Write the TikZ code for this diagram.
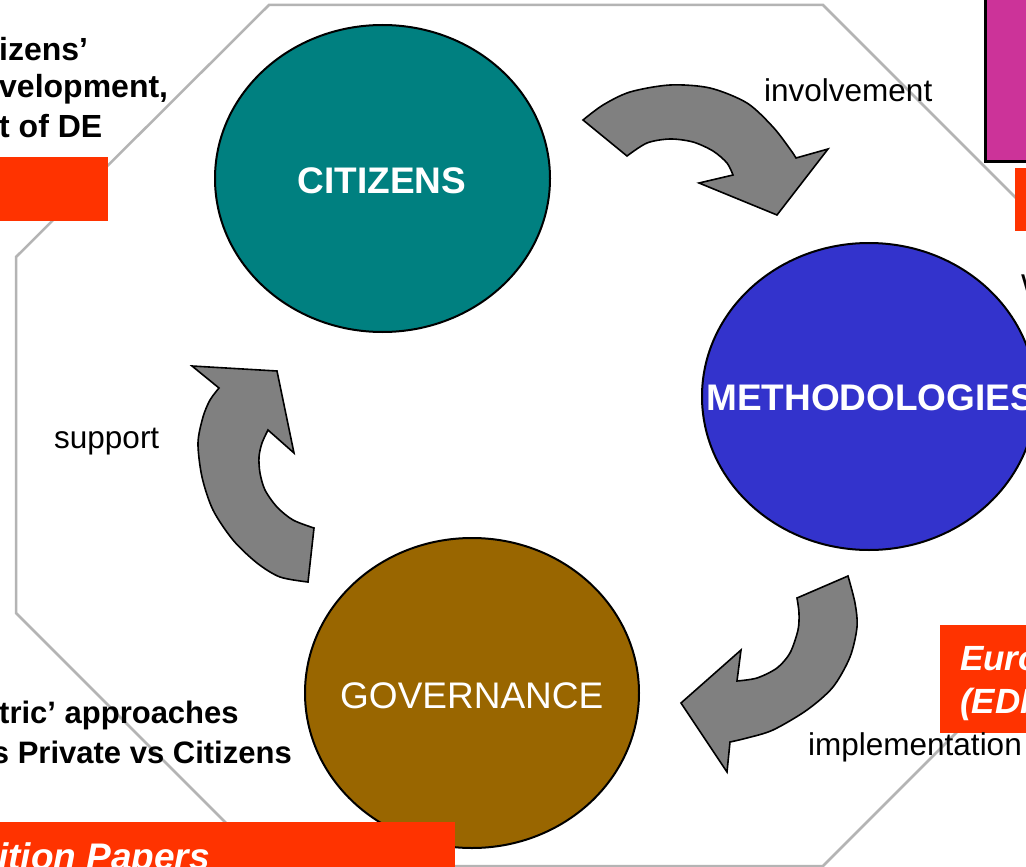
\documentclass[tikz,border=0pt]{standalone}
\usepackage{fontspec}
\setmainfont{Liberation Sans}
\usetikzlibrary{shapes.geometric}
\definecolor{octgray}{HTML}{B4B4B4}
\definecolor{tealc}{HTML}{008080}
\definecolor{bluec}{HTML}{3333CC}
\definecolor{brownc}{HTML}{996600}
\definecolor{magc}{HTML}{CC3399}
\definecolor{redc}{HTML}{FF3300}
\definecolor{arrowgray}{HTML}{808080}
\tikzset{
  oct/.style={draw=octgray, line width=2.5pt, line join=miter},
  blob/.style={ellipse, draw=black, line width=2pt, inner sep=0pt},
  bent/.style={fill=arrowgray, draw=black, line width=1.6pt, line join=miter},
  redbox/.style={fill=redc},
  bigbold/.style={inner sep=0pt, text=white, font=\fontsize{37}{44}\selectfont\bfseries},
  bigreg/.style={inner sep=0pt, text=white, font=\fontsize{37}{44}\selectfont},
  lbl/.style={inner sep=0pt, text=black, font=\fontsize{31.5}{38}\selectfont},
  side/.style={inner sep=0pt, text=black, font=\fontsize{32}{38}\selectfont\bfseries},
  sidesm/.style={inner sep=0pt, text=black, font=\fontsize{31}{38}\selectfont\bfseries},
  boxtxt/.style={inner sep=0pt, text=white, font=\fontsize{35}{42}\selectfont\bfseries\itshape},
  boxtxtbig/.style={inner sep=0pt, text=white, font=\fontsize{37}{44}\selectfont\bfseries\itshape}
}
\begin{document}
\begin{tikzpicture}[x=1pt,y=-1pt]
\useasboundingbox (0,0) rectangle (1026,867);
\clip (0,0) rectangle (1026,867);
\fill[white] (0,0) rectangle (1026,867);
% octagon
\draw[oct] (269,5) -- (823,5) -- (1076,258) -- (1076,613) -- (823,866) -- (269,866) -- (16,613) -- (16,257) -- cycle;
% ellipses
\node[blob, fill=tealc, minimum width=335pt, minimum height=307pt] (cit) at (382.5,178.5) {};
\node[blob, fill=bluec, minimum width=334pt, minimum height=307pt] (met) at (869,396.5) {};
\node[blob, fill=brownc, minimum width=334pt, minimum height=310pt] (gov) at (472,693) {};
% boxes
\fill[redbox] (-5,157) rectangle (108,221);
\filldraw[fill=magc, draw=black, line width=3pt] (985,-10) rectangle (1040,161);
\fill[redbox] (1015,168) rectangle (1040,231);
\fill[redbox] (940,625) rectangle (1040,733);
\fill[redbox] (-5,822) rectangle (455,875);
% curved arrows
\draw[bent] (583,120) -- plot[smooth] coordinates {(583,120) (603,105) (630,92) (670,85) (710,88) (747,103) (773,127) (790,149) (796,158)}
  -- (828,149) -- (777,215) -- (699,183) -- (733,175)
  -- plot[smooth] coordinates {(733,175) (727,163) (713,151) (693,142) (670,139) (647,143) (627,156)} -- cycle;
\draw[bent] (308,582) -- plot[smooth] coordinates {(308,582) (280,577) (257,563) (233,540) (213,510) (202,477) (198,443) (203,417) (210,400) (219,388)}
  -- (192,366) -- (277,371) -- (294,453) -- (268,430)
  -- plot[smooth] coordinates {(268,430) (262,443) (259,457) (260,473) (265,490) (277,507) (293,520) (314,528)} -- cycle;
\draw[bent] (848,576) -- plot[smooth] coordinates {(848,576) (855,603) (857,627) (850,657) (833,687) (807,710) (773,730) (747,738) (730,742)}
  -- (727,772) -- (681,703) -- (741,650) -- (737,681)
  -- plot[smooth] coordinates {(737,681) (757,678) (777,668) (790,653) (798,630) (799,613) (797,598)} -- cycle;
% circle labels
\node[bigbold, anchor=base] (citt) at (382,193) {CITIZENS};
\node[bigbold, anchor=base west] (mett) at (706,410) {METHODOLOGIES};
\node[bigreg, anchor=base west] (govt) at (340,708) {GOVERNANCE};
% arrow labels
\node[lbl, anchor=base west] (inv) at (764,101) {involvement};
\node[lbl, anchor=base west] (sup) at (54,448) {support};
\node[lbl, anchor=base west] (imp) at (808,755) {implementation};
\node[lbl, anchor=base west] (wch) at (1021,296) {W};
% side texts
\node[side, anchor=base west] (l1) at (-1,61) {izens’};
\node[side, anchor=base west] (l2) at (-1,98) {velopment,};
\node[side, anchor=base west] (l3) at (-1,137) {t of DE};
\node[sidesm, anchor=base west] (b1) at (-1,723) {tric’ approaches};
\node[sidesm, anchor=base east] (b2) at (292,763) {s Private vs Citizens};
% box texts
\node[boxtxt, anchor=base west] (eu1) at (960,670) {Euro};
\node[boxtxt, anchor=base west] (eu2) at (960,713) {(EDI};
\node[boxtxtbig, anchor=base west] (pos) at (-2,869) {ition Papers};
\end{tikzpicture}
\end{document}
